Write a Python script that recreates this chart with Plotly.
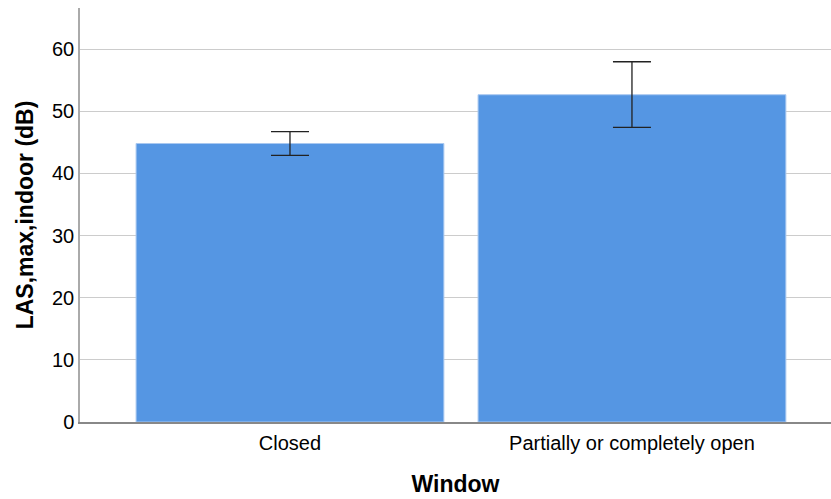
import plotly.graph_objects as go

# Mean maximum indoor level per window state, with error-bar limits
categories = ["Closed", "Partially or completely open"]
means = [44.8, 52.65]
err_upper = [46.7, 57.95]
err_lower = [42.9, 47.4]

plus = [u - m for u, m in zip(err_upper, means)]
minus = [m - l for m, l in zip(means, err_lower)]

fig = go.Figure(
    go.Bar(
        x=list(range(len(categories))),
        y=means,
        width=0.9,
        marker=dict(color="#5596e3", line=dict(color="#a9c8f0", width=1)),
        error_y=dict(
            type="data",
            symmetric=False,
            array=plus,
            arrayminus=minus,
            color="#222222",
            thickness=1.3,
            width=19,
        ),
        hoverinfo="skip",
    )
)

font_family = "Liberation Sans, Arial, sans-serif"

fig.update_layout(
    width=831,
    height=499,
    margin=dict(l=80, r=0, t=8, b=76.5),
    plot_bgcolor="white",
    paper_bgcolor="white",
    showlegend=False,
    font=dict(family=font_family, color="#000000"),
    xaxis=dict(
        range=[-0.614, 1.582],
        tickmode="array",
        tickvals=list(range(len(categories))),
        ticktext=categories,
        tickfont=dict(size=20),
        showgrid=False,
        showline=True,
        linecolor="#888888",
        linewidth=1.5,
        ticks="outside",
        ticklen=2,
        tickcolor="rgba(0,0,0,0)",
        zeroline=False,
        title=dict(text="<b>Window</b>", font=dict(size=23), standoff=23),
    ),
    yaxis=dict(
        range=[0, 66.6],
        tickvals=[0, 10, 20, 30, 40, 50, 60],
        tickfont=dict(size=20),
        showgrid=True,
        gridcolor="#cccccc",
        gridwidth=1,
        showline=True,
        linecolor="#aaaaaa",
        linewidth=1.5,
        ticks="",
        zeroline=False,
        title=dict(text="<b>LAS,max,indoor (dB)</b>", font=dict(size=23), standoff=12),
    ),
)

fig.write_html("out.html")
